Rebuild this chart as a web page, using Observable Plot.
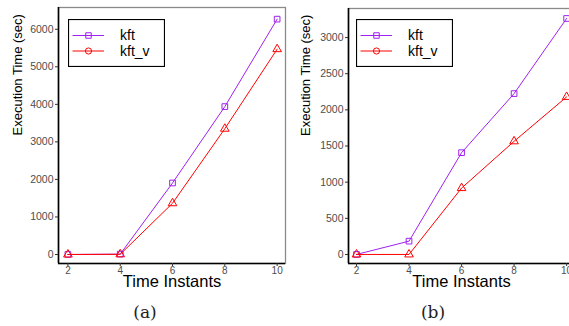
<!DOCTYPE html>
<html>
<head>
<meta charset="utf-8">
<script src="https://cdn.jsdelivr.net/npm/d3@7"></script>
<script src="https://cdn.jsdelivr.net/npm/@observablehq/plot@0.6"></script>
<style>
  html, body { margin: 0; padding: 0; background: #fff; overflow: hidden; }
  #root { position: relative; width: 569px; height: 326px; overflow: hidden; font-family: "Liberation Sans", Arial, sans-serif; }
  .panel { position: absolute; top: 0; }
  .panel svg { max-width: none !important; display: block; }
  .caption { position: absolute; top: 302px; font-family: "DejaVu Serif", "Liberation Serif", serif; font-size: 17px; color: #222; transform: translateX(-50%); }
  .legend { position: absolute; }
</style>
</head>
<body>
<div id="root"></div>
<script>
// ---- data ----
const timeInstants = [2, 4, 6, 8, 10];
const seriesNames = ["kft", "kft_v"];
const kftA  = [0, 10, 1905, 3940, 6270];
const kftvA = [0, 5, 1365, 3350, 5470];
const kftB  = [0, 184, 1408, 2225, 3264];
const kftvB = [0, 0, 918, 1565, 2179];
const yTicksA = [0, 1000, 2000, 3000, 4000, 5000, 6000];
const yTicksB = [0, 500, 1000, 1500, 2000, 2500, 3000];
const xLabel = "Time Instants";
const yLabel = "Execution Time (sec)";
const captions = ["(a)", "(b)"];

const colors = {kft: "#A020F0", kft_v: "#FF0000"};
const symbols = {kft: "square", kft_v: "triangle"};

function rows(a, b) {
  const out = [];
  timeInstants.forEach((t, i) => {
    out.push({t, v: a[i], s: "kft"});
    out.push({t, v: b[i], s: "kft_v"});
  });
  return out;
}

function makePanel(data, opts) {
  const marks = [
    Plot.frame({stroke: "#8a8a8a", strokeWidth: 1.3}),
    Plot.ruleX([opts.xDomain[0]], {stroke: "#000", strokeWidth: 1.6}),
    Plot.ruleY([opts.yDomain[0]], {stroke: "#000", strokeWidth: 1.6}),
    Plot.axisY({ticks: opts.yTicks, tickSize: 3, tickPadding: 2, tickFormat: d => String(d),
      stroke: "#333", fill: "#4d4d4d", fontSize: 10.5, label: null}),
    Plot.axisX({ticks: timeInstants, tickSize: 3, tickPadding: 0, tickFormat: d => String(d),
      stroke: "#333", fill: "#4d4d4d", fontSize: 10, label: null}),
  ];
  for (const s of seriesNames) {
    const d = data.filter(r => r.s === s);
    marks.push(Plot.line(d, {x: "t", y: "v", stroke: colors[s], strokeWidth: 1}));
    marks.push(Plot.dot(d, {x: "t", y: "v", stroke: colors[s], symbol: symbols[s], r: 3.2, fill: "none", strokeWidth: 1}));
  }
  marks.push(Plot.text([yLabel], {frameAnchor: "left", dx: opts.yLabelDx, rotate: -90, fontSize: 13, fill: "#000", lineAnchor: "middle"}));
  marks.push(Plot.text([xLabel], {frameAnchor: "bottom", dy: 18, fontSize: 16.5, fill: "#000", lineAnchor: "middle"}));
  return Plot.plot({
    width: opts.width,
    height: 300,
    marginLeft: opts.marginLeft,
    marginRight: opts.marginRight,
    marginTop: opts.marginTop,
    marginBottom: 37,
    style: {fontFamily: "'Liberation Sans', Arial, sans-serif", background: "transparent", overflow: "visible", maxWidth: "none"},
    x: {domain: opts.xDomain, axis: null},
    y: {domain: opts.yDomain, axis: null},
    marks
  });
}

function makeLegend(left, top) {
  const w = 97, h = 48;
  const div = document.createElement("div");
  div.className = "legend";
  div.style.left = left + "px";
  div.style.top = top + "px";
  const svg = d3.create("svg").attr("width", w).attr("height", h);
  svg.append("rect").attr("x", 0.5).attr("y", 0.5).attr("width", w - 1).attr("height", h - 1)
    .attr("fill", "#fff").attr("stroke", "#000").attr("stroke-width", 1.2);
  const legSym = {kft: d3.symbolSquare, kft_v: d3.symbolCircle};
  seriesNames.forEach((s, i) => {
    const y = 16.5 + i * 15.5;
    svg.append("line").attr("x1", 4.5).attr("x2", 36).attr("y1", y).attr("y2", y)
      .attr("stroke", colors[s]).attr("stroke-width", 1);
    svg.append("path").attr("transform", `translate(20.5,${y})`)
      .attr("d", d3.symbol(legSym[s], 30)()).attr("fill", "none").attr("stroke", colors[s]).attr("stroke-width", 1);
    svg.append("text").attr("x", 52).attr("y", y).attr("dy", "0.35em")
      .attr("font-size", 14).attr("font-family", "'Liberation Sans', Arial, sans-serif")
      .attr("fill", "#000").text(s);
  });
  div.appendChild(svg.node());
  return div;
}

const root = document.getElementById("root");

const pA = makePanel(rows(kftA, kftvA), {
  width: 290, marginLeft: 58, marginRight: 5, marginTop: 7,
  xDomain: [1.64, 10.32], yDomain: [-240, 6580], yTicks: yTicksA, yLabelDx: -41
});
const dA = document.createElement("div"); dA.className = "panel"; dA.style.left = "0px"; dA.style.width = "290px"; dA.appendChild(pA);
root.appendChild(dA);

const pB = makePanel(rows(kftB, kftvB), {
  width: 300, marginLeft: 63, marginRight: 11, marginTop: 8,
  xDomain: [1.695, 10.3], yDomain: [-125, 3402], yTicks: yTicksB, yLabelDx: -43
});
const dB = document.createElement("div"); dB.className = "panel"; dB.style.left = "285px"; dB.style.width = "300px"; dB.appendChild(pB);
root.appendChild(dB);

root.appendChild(makeLegend(67.5, 18.5));
root.appendChild(makeLegend(356, 18.5));

[[captions[0], 145], [captions[1], 433]].forEach(([t, x]) => {
  const c = document.createElement("div");
  c.className = "caption";
  c.style.left = x + "px";
  c.textContent = t;
  root.appendChild(c);
});
</script>
</body>
</html>
